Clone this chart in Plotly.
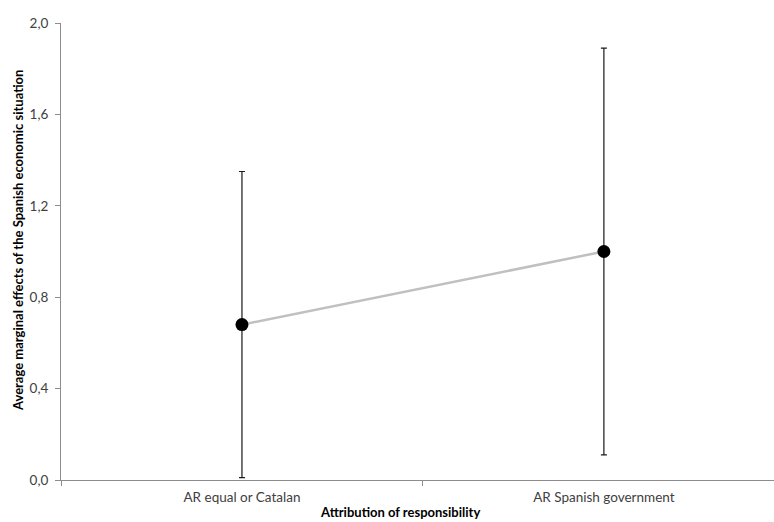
import plotly.graph_objects as go

# Average marginal effects with 95% confidence bounds
categories = ["AR equal or Catalan", "AR Spanish government"]
estimates = [0.68, 1.00]
upper_bounds = [1.35, 1.89]
lower_bounds = [0.01, 0.11]
y_ticks = [0.0, 0.4, 0.8, 1.2, 1.6, 2.0]

err_plus = [u - e for u, e in zip(upper_bounds, estimates)]
err_minus = [e - l for e, l in zip(estimates, lower_bounds)]

FONT = "Lato, Open Sans, sans-serif"
AXIS_GREY = "#8c8c8c"
TEXT_GREY = "#404040"

PLOT_L, PLOT_R, PLOT_T, PLOT_B = 61, 774, 23, 480
plot_w = PLOT_R - PLOT_L
plot_h = PLOT_B - PLOT_T

fig = go.Figure()

# connecting line drawn underneath
fig.add_trace(go.Scatter(
    x=categories, y=estimates, mode="lines",
    line=dict(color="#c0c0c0", width=2.5),
    hoverinfo="skip", showlegend=False,
))

# point estimates with confidence intervals
fig.add_trace(go.Scatter(
    x=categories, y=estimates, mode="markers",
    marker=dict(color="black", size=13),
    error_y=dict(type="data", symmetric=False, array=err_plus,
                 arrayminus=err_minus, color="#1a1a1a", thickness=1.2, width=3),
    showlegend=False,
))

fig.update_layout(
    width=774, height=522,
    margin=dict(l=PLOT_L, r=774 - PLOT_R, t=PLOT_T, b=522 - PLOT_B),
    plot_bgcolor="white", paper_bgcolor="white",
    separators=", ",
    font=dict(family=FONT, size=13, color=TEXT_GREY),
    xaxis=dict(
        type="category", range=[-0.5, 1.47],
        tickson="boundaries", ticks="outside", ticklen=5, tickcolor=AXIS_GREY,
        ticklabelstandoff=5,
        showline=True, linecolor=AXIS_GREY, linewidth=1,
        showgrid=False, zeroline=False,
        tickfont=dict(size=13.5, color=TEXT_GREY),
    ),
    yaxis=dict(
        range=[0, 2.0], tickvals=y_ticks, tickformat=".1f",
        ticks="outside", ticklen=5, tickcolor=AXIS_GREY,
        ticklabelstandoff=4,
        showline=True, linecolor=AXIS_GREY, linewidth=1,
        showgrid=False, zeroline=False,
        tickfont=dict(size=13.5, color=TEXT_GREY),
    ),
    annotations=[
        dict(text="<b>Attribution of responsibility</b>", xref="paper", yref="paper",
             x=(400 - PLOT_L) / plot_w, y=(PLOT_B - 522) / plot_h,
             xanchor="center", yanchor="bottom",
             showarrow=False, font=dict(size=13, color="black")),
        dict(text="<b>Average marginal effects of the Spanish economic situation</b>",
             xref="paper", yref="paper", x=(18 - PLOT_L) / plot_w,
             y=(PLOT_B - 241) / plot_h,
             xanchor="center", yanchor="middle", textangle=-90,
             showarrow=False, font=dict(size=13, color="black")),
    ],
)

fig.write_html("out.html")
